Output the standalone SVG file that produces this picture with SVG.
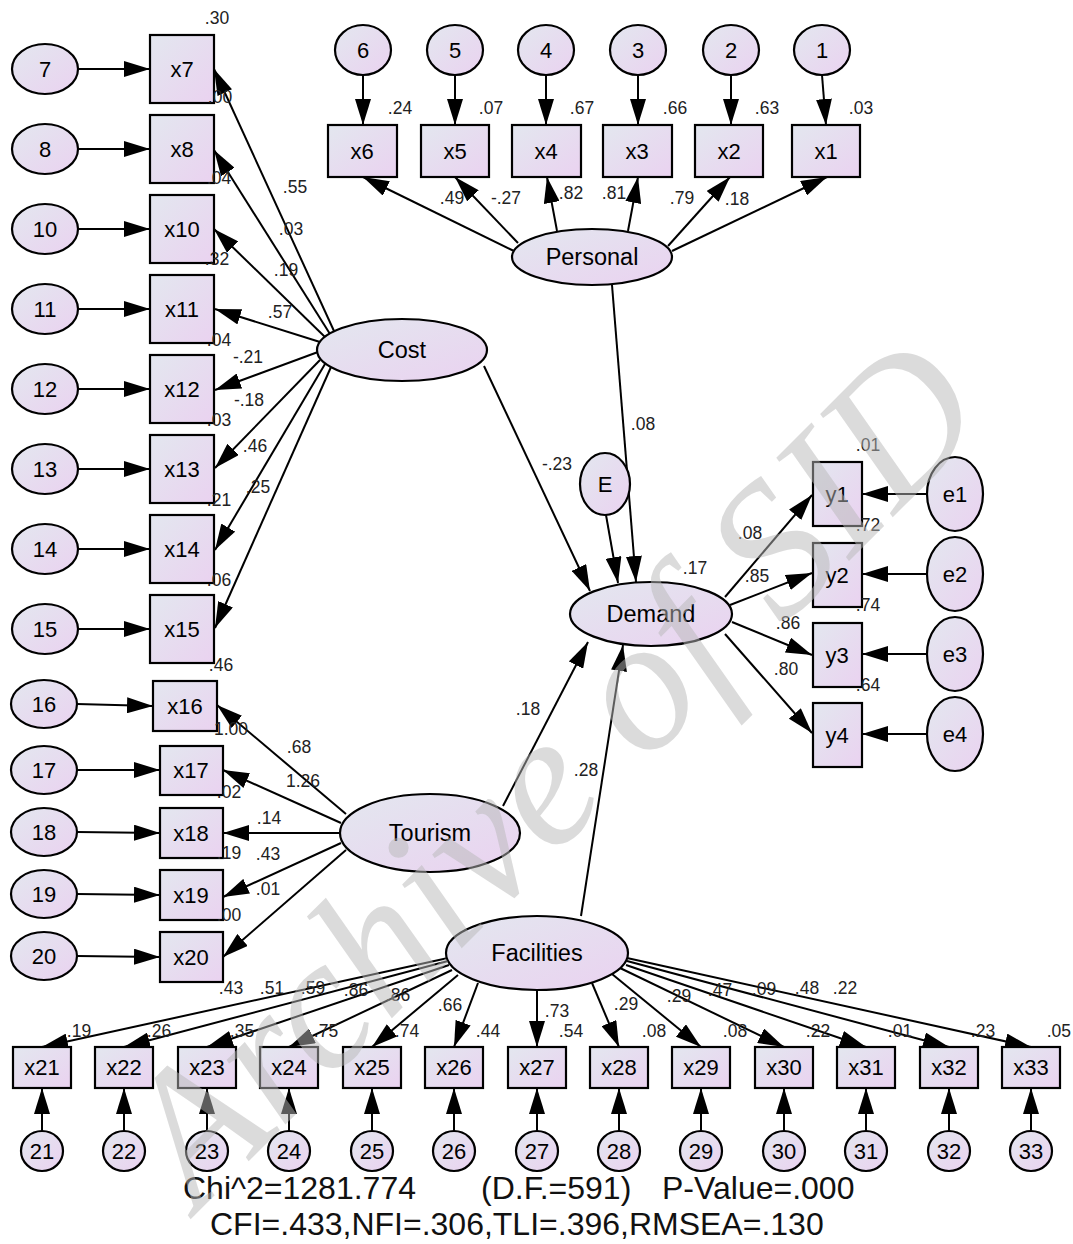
<svg xmlns="http://www.w3.org/2000/svg" width="1073" height="1244" viewBox="0 0 1073 1244">
<defs>
<linearGradient id="g" x1="0" y1="0" x2="1" y2="1">
<stop offset="0" stop-color="#e3e7ef"/>
<stop offset="1" stop-color="#ead2f0"/>
</linearGradient>
<marker id="ah" markerUnits="userSpaceOnUse" markerWidth="26" markerHeight="16" viewBox="0 0 26 16" refX="26" refY="8" orient="auto">
<path d="M0,0 L26,8 L0,16 Z" fill="#000"/>
</marker>
</defs>
<style>
.n{fill:url(#g);stroke:#000;stroke-width:2.2}
.t{font-family:"Liberation Sans",Arial,sans-serif;font-size:22px;text-anchor:middle;fill:#000}
.L{font-size:23.5px}
.v{font-family:"Liberation Sans",Arial,sans-serif;font-size:17.5px;text-anchor:middle;fill:#222}
.s{font-family:"Liberation Sans",Arial,sans-serif;font-size:32px;fill:#111}
.c line,.c path{stroke:#000;stroke-width:2;fill:none;marker-end:url(#ah)}
</style>
<rect width="1073" height="1244" fill="#fff"/>

<g id="connectors" class="c">
<line x1="78" y1="69" x2="150" y2="69"/>
<line x1="78" y1="149" x2="150" y2="149"/>
<line x1="78" y1="229" x2="150" y2="229"/>
<line x1="78" y1="309" x2="150" y2="309"/>
<line x1="78" y1="389" x2="150" y2="389"/>
<line x1="78" y1="469" x2="150" y2="469"/>
<line x1="78" y1="549" x2="150" y2="549"/>
<line x1="78" y1="629" x2="150" y2="629"/>
<line x1="77" y1="704" x2="153" y2="706"/>
<line x1="77" y1="770" x2="160" y2="770"/>
<line x1="77" y1="832" x2="160" y2="833"/>
<line x1="77" y1="894" x2="160" y2="895"/>
<line x1="77" y1="956" x2="160" y2="957"/>
<line x1="334" y1="331" x2="214" y2="69"/>
<line x1="330" y1="334" x2="214" y2="150"/>
<line x1="325" y1="337" x2="214" y2="229"/>
<line x1="320" y1="342" x2="215" y2="309"/>
<line x1="318" y1="352" x2="215" y2="390"/>
<line x1="320" y1="360" x2="215" y2="468"/>
<line x1="325" y1="364" x2="215" y2="550"/>
<line x1="331" y1="367" x2="215" y2="628"/>
<line x1="363" y1="75" x2="363" y2="125"/>
<line x1="455" y1="75" x2="455" y2="125"/>
<line x1="546" y1="75" x2="546" y2="125"/>
<line x1="638" y1="75" x2="638" y2="125"/>
<line x1="731" y1="75" x2="731" y2="125"/>
<line x1="822" y1="75" x2="826" y2="125"/>
<line x1="514" y1="251" x2="363" y2="177"/>
<line x1="518" y1="243" x2="455" y2="177"/>
<line x1="557" y1="231" x2="547" y2="177"/>
<line x1="628" y1="231" x2="638" y2="177"/>
<line x1="668" y1="246" x2="730" y2="177"/>
<line x1="672" y1="251" x2="827" y2="177"/>
<line x1="612" y1="285" x2="636" y2="582"/>
<line x1="606" y1="515" x2="618" y2="583"/>
<line x1="484" y1="366" x2="590" y2="591"/>
<line x1="503" y1="806" x2="588" y2="642"/>
<line x1="581" y1="916" x2="623" y2="645"/>
<line x1="725" y1="597" x2="812" y2="495"/>
<line x1="730" y1="605" x2="812" y2="573"/>
<line x1="732" y1="622" x2="812" y2="655"/>
<line x1="725" y1="634" x2="812" y2="733"/>
<line x1="927" y1="494" x2="862" y2="494"/>
<line x1="927" y1="574" x2="862" y2="574"/>
<line x1="927" y1="654" x2="862" y2="654"/>
<line x1="927" y1="734" x2="862" y2="734"/>
<line x1="346" y1="814" x2="217" y2="705"/>
<line x1="341" y1="823" x2="223" y2="770"/>
<line x1="340" y1="833" x2="223" y2="833"/>
<line x1="341" y1="843" x2="223" y2="897"/>
<line x1="346" y1="850" x2="223" y2="957"/>
<line x1="448" y1="958" x2="42" y2="1047"/>
<line x1="448" y1="961" x2="124" y2="1047"/>
<line x1="449" y1="965" x2="207" y2="1047"/>
<line x1="452" y1="970" x2="289" y2="1047"/>
<line x1="458" y1="975" x2="372" y2="1047"/>
<line x1="478" y1="983" x2="454" y2="1047"/>
<line x1="537" y1="990" x2="537" y2="1047"/>
<line x1="592" y1="983" x2="619" y2="1047"/>
<line x1="612" y1="974" x2="701" y2="1047"/>
<line x1="620" y1="968" x2="784" y2="1047"/>
<line x1="626" y1="965" x2="866" y2="1047"/>
<line x1="627" y1="961" x2="949" y2="1047"/>
<line x1="627" y1="958" x2="1031" y2="1047"/>
<line x1="42" y1="1131" x2="42" y2="1088"/>
<line x1="124" y1="1131" x2="124" y2="1088"/>
<line x1="207" y1="1131" x2="207" y2="1088"/>
<line x1="289" y1="1131" x2="289" y2="1088"/>
<line x1="372" y1="1131" x2="372" y2="1088"/>
<line x1="454" y1="1131" x2="454" y2="1088"/>
<line x1="537" y1="1131" x2="537" y2="1088"/>
<line x1="619" y1="1131" x2="619" y2="1088"/>
<line x1="701" y1="1131" x2="701" y2="1088"/>
<line x1="784" y1="1131" x2="784" y2="1088"/>
<line x1="866" y1="1131" x2="866" y2="1088"/>
<line x1="949" y1="1131" x2="949" y2="1088"/>
<line x1="1031" y1="1131" x2="1031" y2="1088"/>
</g>

<g id="Cost"><ellipse class="n" cx="402" cy="350" rx="85" ry="31"/><text class="t L" x="402" y="358">Cost</text></g>
<g id="Personal"><ellipse class="n" cx="592" cy="257" rx="80" ry="28"/><text class="t L" x="592" y="265">Personal</text></g>
<g id="Demand"><ellipse class="n" cx="651" cy="614" rx="81" ry="32"/><text class="t L" x="651" y="622">Demand</text></g>
<g id="Tourism"><ellipse class="n" cx="430" cy="833" rx="90" ry="39"/><text class="t L" x="430" y="841">Tourism</text></g>
<g id="Facilities"><ellipse class="n" cx="537" cy="953" rx="91" ry="37"/><text class="t L" x="537" y="961">Facilities</text></g>
<g id="E"><ellipse class="n" cx="605" cy="484" rx="25" ry="31"/><text class="t" x="605" y="492">E</text></g>

<g id="e7"><ellipse class="n" cx="45" cy="69" rx="33" ry="25"/><text class="t" x="45" y="77">7</text></g>
<g id="e8"><ellipse class="n" cx="45" cy="149" rx="33" ry="25"/><text class="t" x="45" y="157">8</text></g>
<g id="e10"><ellipse class="n" cx="45" cy="229" rx="33" ry="25"/><text class="t" x="45" y="237">10</text></g>
<g id="e11"><ellipse class="n" cx="45" cy="309" rx="33" ry="25"/><text class="t" x="45" y="317">11</text></g>
<g id="e12"><ellipse class="n" cx="45" cy="389" rx="33" ry="25"/><text class="t" x="45" y="397">12</text></g>
<g id="e13"><ellipse class="n" cx="45" cy="469" rx="33" ry="25"/><text class="t" x="45" y="477">13</text></g>
<g id="e14"><ellipse class="n" cx="45" cy="549" rx="33" ry="25"/><text class="t" x="45" y="557">14</text></g>
<g id="e15"><ellipse class="n" cx="45" cy="629" rx="33" ry="25"/><text class="t" x="45" y="637">15</text></g>
<g id="x7"><rect class="n" x="150" y="35" width="64" height="68"/><text class="t" x="182" y="77">x7</text></g>
<g id="x8"><rect class="n" x="150" y="115" width="64" height="68"/><text class="t" x="182" y="157">x8</text></g>
<g id="x10"><rect class="n" x="150" y="195" width="64" height="68"/><text class="t" x="182" y="237">x10</text></g>
<g id="x11"><rect class="n" x="150" y="275" width="64" height="68"/><text class="t" x="182" y="317">x11</text></g>
<g id="x12"><rect class="n" x="150" y="355" width="64" height="68"/><text class="t" x="182" y="397">x12</text></g>
<g id="x13"><rect class="n" x="150" y="435" width="64" height="68"/><text class="t" x="182" y="477">x13</text></g>
<g id="x14"><rect class="n" x="150" y="515" width="64" height="68"/><text class="t" x="182" y="557">x14</text></g>
<g id="x15"><rect class="n" x="150" y="595" width="64" height="68"/><text class="t" x="182" y="637">x15</text></g>

<g id="e16"><ellipse class="n" cx="44" cy="704" rx="33" ry="24"/><text class="t" x="44" y="712">16</text></g>
<g id="e17"><ellipse class="n" cx="44" cy="770" rx="33" ry="24"/><text class="t" x="44" y="778">17</text></g>
<g id="e18"><ellipse class="n" cx="44" cy="832" rx="33" ry="24"/><text class="t" x="44" y="840">18</text></g>
<g id="e19"><ellipse class="n" cx="44" cy="894" rx="33" ry="24"/><text class="t" x="44" y="902">19</text></g>
<g id="e20"><ellipse class="n" cx="44" cy="956" rx="33" ry="24"/><text class="t" x="44" y="964">20</text></g>
<g id="x16"><rect class="n" x="153" y="681" width="64" height="50"/><text class="t" x="185" y="714">x16</text></g>
<g id="x17"><rect class="n" x="160" y="746" width="63" height="49"/><text class="t" x="191" y="778">x17</text></g>
<g id="x18"><rect class="n" x="160" y="808" width="63" height="50"/><text class="t" x="191" y="841">x18</text></g>
<g id="x19"><rect class="n" x="160" y="870" width="63" height="50"/><text class="t" x="191" y="903">x19</text></g>
<g id="x20"><rect class="n" x="160" y="932" width="63" height="50"/><text class="t" x="191" y="965">x20</text></g>

<g id="e6"><ellipse class="n" cx="363" cy="50" rx="28" ry="25"/><text class="t" x="363" y="58">6</text></g>
<g id="e5"><ellipse class="n" cx="455" cy="50" rx="28" ry="25"/><text class="t" x="455" y="58">5</text></g>
<g id="e4"><ellipse class="n" cx="546" cy="50" rx="28" ry="25"/><text class="t" x="546" y="58">4</text></g>
<g id="e3"><ellipse class="n" cx="638" cy="50" rx="28" ry="25"/><text class="t" x="638" y="58">3</text></g>
<g id="e2"><ellipse class="n" cx="731" cy="50" rx="28" ry="25"/><text class="t" x="731" y="58">2</text></g>
<g id="e1"><ellipse class="n" cx="822" cy="50" rx="28" ry="25"/><text class="t" x="822" y="58">1</text></g>
<g id="x6"><rect class="n" x="328" y="125" width="69" height="52"/><text class="t" x="362" y="159">x6</text></g>
<g id="x5"><rect class="n" x="421" y="125" width="68" height="52"/><text class="t" x="455" y="159">x5</text></g>
<g id="x4"><rect class="n" x="512" y="125" width="69" height="52"/><text class="t" x="546" y="159">x4</text></g>
<g id="x3"><rect class="n" x="603" y="125" width="69" height="52"/><text class="t" x="637" y="159">x3</text></g>
<g id="x2"><rect class="n" x="695" y="125" width="68" height="52"/><text class="t" x="729" y="159">x2</text></g>
<g id="x1"><rect class="n" x="792" y="125" width="68" height="52"/><text class="t" x="826" y="159">x1</text></g>

<g id="y1"><rect class="n" x="813" y="462" width="49" height="64"/><text class="t" x="837" y="502">y1</text></g>
<g id="y2"><rect class="n" x="813" y="543" width="49" height="64"/><text class="t" x="837" y="583">y2</text></g>
<g id="y3"><rect class="n" x="813" y="623" width="49" height="64"/><text class="t" x="837" y="663">y3</text></g>
<g id="y4"><rect class="n" x="813" y="703" width="49" height="64"/><text class="t" x="837" y="743">y4</text></g>
<g id="ee1"><ellipse class="n" cx="955" cy="494" rx="28" ry="37"/><text class="t" x="955" y="502">e1</text></g>
<g id="ee2"><ellipse class="n" cx="955" cy="574" rx="28" ry="37"/><text class="t" x="955" y="582">e2</text></g>
<g id="ee3"><ellipse class="n" cx="955" cy="654" rx="28" ry="37"/><text class="t" x="955" y="662">e3</text></g>
<g id="ee4"><ellipse class="n" cx="955" cy="734" rx="28" ry="37"/><text class="t" x="955" y="742">e4</text></g>

<g id="x21"><rect class="n" x="13" y="1047" width="58" height="41"/><text class="t" x="42" y="1075">x21</text></g>
<g id="x22"><rect class="n" x="95" y="1047" width="58" height="41"/><text class="t" x="124" y="1075">x22</text></g>
<g id="x23"><rect class="n" x="178" y="1047" width="58" height="41"/><text class="t" x="207" y="1075">x23</text></g>
<g id="x24"><rect class="n" x="260" y="1047" width="58" height="41"/><text class="t" x="289" y="1075">x24</text></g>
<g id="x25"><rect class="n" x="343" y="1047" width="58" height="41"/><text class="t" x="372" y="1075">x25</text></g>
<g id="x26"><rect class="n" x="425" y="1047" width="58" height="41"/><text class="t" x="454" y="1075">x26</text></g>
<g id="x27"><rect class="n" x="508" y="1047" width="58" height="41"/><text class="t" x="537" y="1075">x27</text></g>
<g id="x28"><rect class="n" x="590" y="1047" width="58" height="41"/><text class="t" x="619" y="1075">x28</text></g>
<g id="x29"><rect class="n" x="672" y="1047" width="58" height="41"/><text class="t" x="701" y="1075">x29</text></g>
<g id="x30"><rect class="n" x="755" y="1047" width="58" height="41"/><text class="t" x="784" y="1075">x30</text></g>
<g id="x31"><rect class="n" x="837" y="1047" width="58" height="41"/><text class="t" x="866" y="1075">x31</text></g>
<g id="x32"><rect class="n" x="920" y="1047" width="58" height="41"/><text class="t" x="949" y="1075">x32</text></g>
<g id="x33"><rect class="n" x="1002" y="1047" width="58" height="41"/><text class="t" x="1031" y="1075">x33</text></g>
<g id="e21"><ellipse class="n" cx="42" cy="1151" rx="21" ry="20"/><text class="t" x="42" y="1159">21</text></g>
<g id="e22"><ellipse class="n" cx="124" cy="1151" rx="21" ry="20"/><text class="t" x="124" y="1159">22</text></g>
<g id="e23"><ellipse class="n" cx="207" cy="1151" rx="21" ry="20"/><text class="t" x="207" y="1159">23</text></g>
<g id="e24"><ellipse class="n" cx="289" cy="1151" rx="21" ry="20"/><text class="t" x="289" y="1159">24</text></g>
<g id="e25"><ellipse class="n" cx="372" cy="1151" rx="21" ry="20"/><text class="t" x="372" y="1159">25</text></g>
<g id="e26"><ellipse class="n" cx="454" cy="1151" rx="21" ry="20"/><text class="t" x="454" y="1159">26</text></g>
<g id="e27"><ellipse class="n" cx="537" cy="1151" rx="21" ry="20"/><text class="t" x="537" y="1159">27</text></g>
<g id="e28"><ellipse class="n" cx="619" cy="1151" rx="21" ry="20"/><text class="t" x="619" y="1159">28</text></g>
<g id="e29"><ellipse class="n" cx="701" cy="1151" rx="21" ry="20"/><text class="t" x="701" y="1159">29</text></g>
<g id="e30"><ellipse class="n" cx="784" cy="1151" rx="21" ry="20"/><text class="t" x="784" y="1159">30</text></g>
<g id="e31"><ellipse class="n" cx="866" cy="1151" rx="21" ry="20"/><text class="t" x="866" y="1159">31</text></g>
<g id="e32"><ellipse class="n" cx="949" cy="1151" rx="21" ry="20"/><text class="t" x="949" y="1159">32</text></g>
<g id="e33"><ellipse class="n" cx="1031" cy="1151" rx="21" ry="20"/><text class="t" x="1031" y="1159">33</text></g>

<g id="estimates">
<text class="v" x="217" y="24">.30</text>
<text class="v" x="220" y="103">.00</text>
<text class="v" x="219" y="184">.04</text>
<text class="v" x="217" y="265">.32</text>
<text class="v" x="219" y="346">.04</text>
<text class="v" x="219" y="426">.03</text>
<text class="v" x="219" y="506">.21</text>
<text class="v" x="219" y="586">.06</text>
<text class="v" x="221" y="671">.46</text>
<text class="v" x="295" y="193">.55</text>
<text class="v" x="291" y="235">.03</text>
<text class="v" x="286" y="276">.19</text>
<text class="v" x="280" y="318">.57</text>
<text class="v" x="248" y="363">-.21</text>
<text class="v" x="249" y="406">-.18</text>
<text class="v" x="255" y="452">.46</text>
<text class="v" x="258" y="493">.25</text>
<text class="v" x="400" y="114">.24</text>
<text class="v" x="491" y="114">.07</text>
<text class="v" x="582" y="114">.67</text>
<text class="v" x="675" y="114">.66</text>
<text class="v" x="767" y="114">.63</text>
<text class="v" x="861" y="114">.03</text>
<text class="v" x="452" y="204">.49</text>
<text class="v" x="506" y="204">-.27</text>
<text class="v" x="571" y="199">.82</text>
<text class="v" x="614" y="199">.81</text>
<text class="v" x="682" y="204">.79</text>
<text class="v" x="737" y="205">.18</text>
<text class="v" x="643" y="430">.08</text>
<text class="v" x="557" y="470">-.23</text>
<text class="v" x="695" y="574">.17</text>
<text class="v" x="868" y="451">.01</text>
<text class="v" x="868" y="531">.72</text>
<text class="v" x="868" y="611">.74</text>
<text class="v" x="868" y="691">.64</text>
<text class="v" x="750" y="539">.08</text>
<text class="v" x="757" y="582">.85</text>
<text class="v" x="788" y="629">.86</text>
<text class="v" x="786" y="675">.80</text>
<text class="v" x="528" y="715">.18</text>
<text class="v" x="586" y="776">.28</text>
<text class="v" x="231" y="735">1.00</text>
<text class="v" x="299" y="753">.68</text>
<text class="v" x="303" y="787">1.26</text>
<text class="v" x="229" y="798">.02</text>
<text class="v" x="269" y="824">.14</text>
<text class="v" x="229" y="859">.19</text>
<text class="v" x="268" y="860">.43</text>
<text class="v" x="268" y="895">.01</text>
<text class="v" x="229" y="921">.00</text>
<text class="v" x="231" y="994">.43</text>
<text class="v" x="272" y="994">.51</text>
<text class="v" x="313" y="994">.59</text>
<text class="v" x="356" y="996">.86</text>
<text class="v" x="398" y="1001">.86</text>
<text class="v" x="450" y="1011">.66</text>
<text class="v" x="557" y="1017">.73</text>
<text class="v" x="626" y="1010">.29</text>
<text class="v" x="679" y="1002">.29</text>
<text class="v" x="720" y="996">.47</text>
<text class="v" x="764" y="995">.09</text>
<text class="v" x="807" y="994">.48</text>
<text class="v" x="845" y="994">.22</text>
<text class="v" x="79" y="1037">.19</text>
<text class="v" x="159" y="1037">.26</text>
<text class="v" x="242" y="1037">.35</text>
<text class="v" x="326" y="1037">.75</text>
<text class="v" x="407" y="1037">.74</text>
<text class="v" x="488" y="1037">.44</text>
<text class="v" x="571" y="1037">.54</text>
<text class="v" x="654" y="1037">.08</text>
<text class="v" x="735" y="1037">.08</text>
<text class="v" x="818" y="1037">.22</text>
<text class="v" x="900" y="1037">.01</text>
<text class="v" x="983" y="1037">.23</text>
<text class="v" x="1071" y="1037" style="text-anchor:end">.05</text>
</g>

<g id="fit">
<text class="s" x="183" y="1199">Chi^2=1281.774</text>
<text class="s" x="481" y="1199">(D.F.=591)</text>
<text class="s" x="662" y="1199">P-Value=.000</text>
<text class="s" x="210" y="1235">CFI=.433,NFI=.306,TLI=.396,RMSEA=.130</text>
</g>

<g id="watermark">
<text x="198" y="1212" transform="rotate(-45 198 1212)" font-family="'Liberation Serif',serif" font-style="italic" font-size="190" fill="#b8b8b8" fill-opacity="0.5">Archive of SID</text>
</g>
</svg>
